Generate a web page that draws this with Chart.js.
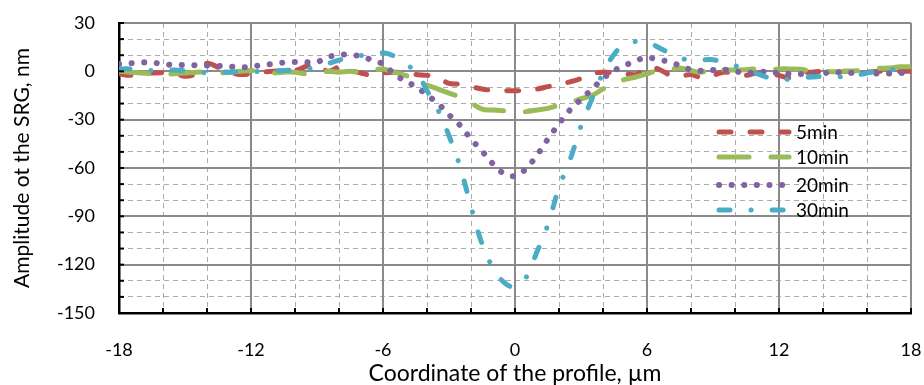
<!DOCTYPE html>
<html>
<head>
<meta charset="utf-8">
<script src="https://cdn.jsdelivr.net/npm/chart.js@4.4.1/dist/chart.umd.min.js"></script>
<style>
  body { margin: 0; background: #fff; }
  #wrap { width: 924px; height: 385px; }
</style>
</head>
<body>
<div id="wrap"><canvas id="srgChart"></canvas></div>
<script>
// profile coordinate, um (step 0.5)
const xs = [];
for (let i = 0; i <= 72; i++) xs.push(-18 + i * 0.5);

const seriesNames = ["5min", "10min", "20min", "30min"];

const min5 = [
  -1.5, -2.5, -1.5, -1, -0.8, -1, -3, -1.5, 5, 2.5, -0.5, -2, -1.5, -0.5, 0, 0.5, 0.5, 3, 4,
  0, 2.5, 0.5, -1, -2.5, -1, -0.5, -1, -2, -2.5, -4, -7.5, -8, -9.5, -11, -11.8, -12,
  -12, -12, -11, -9.5, -8, -6.5, -4.5, -1.5, -0.5, -1, -1.5, -2, 2.5, 1.5, -2, -3,
  -2, -4, -2.5, -0.5, -1.5, -2.5, -1, -1.5, -2.5, -4, -1, -0.5, 0, -0.5, 0, 0, -0.5, 0, 0, 0, 0
];
const min10 = [
  0, -0.5, -1, -1.5, -2, -1.5, -1, -0.5, -0.5, -1, -0.5, 0, 0.5, -0.3, -1, -0.5, -0.5, -1.5, -1,
  0, -0.5, 0, -0.5, 0.5, 1.5, -0.5, -2.5, -5, -8.5, -11, -13.5, -16, -19.5, -23.5, -24, -24.5,
  -25.5, -25, -24, -23, -21, -19.5, -17, -15, -11, -8, -5, -3.5, -1.5, 0.5, 1, 2,
  0.5, -0.5, 3, 1, 0.8, 1, 1.5, 1, 1.5, 1.5, 1.3, 0, 0, -0.3, 0, 0.3, 0.8, 1.8, 2, 2.8, 2.8
];
const min20 = [
  4.5, 5, 5.5, 5.5, 4.5, 4, 4, 3.8, 3.6, 3.4, 3, 2.5, 2.8, 4, 4.5, 5.5, 5.8, 5.6, 5.8,
  8.8, 10.3, 10.3, 9.3, 7, 4.5, -1.5, -6, -9.5, -14.7, -20, -27, -33.5, -42, -49.5, -57.5, -63.5,
  -65, -60.5, -52, -42, -32.5, -24, -17.5, -11, -4.5, 0.5, 3.7, 6.6, 8.7, 7.2, 6, 3.5,
  1, 0.3, 0.8, 1, 0, -1, -0.5, -0.2, -1.2, -1.5, -1.6, -1.8, -1.2, -0.5, -0.8, -1, -1.2, -1.3, -1.3, -1, -1
];
const min30 = [
  1.5, 1.5, 1, 0.5, 0.5, 0.8, 0.5, 0, -1, -0.5, -0.5, -0.4, -0.3, 0, 0.3, 0.5, 0.8, 1.5, 2.5,
  4.8, 7, 8.5, 9.8, 10.5, 11.5, 9.5, 4.5, 0, -12, -24, -40, -59, -84, -107, -122, -131,
  -134, -128, -112, -95, -72, -55, -34, -17, -1, 10.5, 17, 18.5, 18.5, 15, 11.5, 8.5,
  6.5, 7, 7.2, 5.5, 3.5, 1, -1.5, -3.8, -4.5, -5, -4, -3.5, -3.2, -3.3, -3.3, -2.5, -1, 0.5, 1, 1, 1
];

const colors = ["#C0504D", "#9BBB59", "#8064A2", "#4BACC6"];
const dashes = [[12, 19], [30, 22], [0.1, 12.5], [11, 21, 0.1, 21]];
const widths = [5, 5, 6, 5];
const allY = [min5, min10, min20, min30];

const FONT = "Lato, 'Liberation Sans', sans-serif";

const datasets = allY.map((ys, k) => ({
  label: seriesNames[k],
  data: xs.map((x, i) => ({ x: x, y: ys[i] })),
  borderColor: colors[k],
  borderWidth: widths[k],
  borderDash: dashes[k],
  borderCapStyle: "round",
  borderJoinStyle: "round",
  pointRadius: 0,
  tension: 0.35,
  fill: false,
  order: 4 - k
}));

function noPad(s) {
  s.paddingLeft = 0; s.paddingRight = 0; s.paddingTop = 0; s.paddingBottom = 0;
}

// inner tick marks on the black axes + legend inside the plot
const extras = {
  id: "extras",
  afterDraw(chart) {
    const ctx = chart.ctx;
    const x = chart.scales.x, y = chart.scales.y;
    const a = chart.chartArea;
    ctx.save();
    ctx.strokeStyle = "#000";
    ctx.lineWidth = 2;
    ctx.setLineDash([]);
    for (let v = -16; v <= 18; v += 2) {
      const px = x.getPixelForValue(v);
      ctx.beginPath(); ctx.moveTo(px, a.bottom); ctx.lineTo(px, a.bottom - 5); ctx.stroke();
    }
    for (let v = -140; v <= 30; v += 10) {
      const py = y.getPixelForValue(v);
      ctx.beginPath(); ctx.moveTo(a.left, py); ctx.lineTo(a.left + 5, py); ctx.stroke();
    }
    const rows = [132, 157, 185, 210];
    ctx.lineCap = "round";
    ctx.font = "19px " + FONT;
    ctx.textBaseline = "middle";
    ctx.fillStyle = "#000";
    rows.forEach((ry, k) => {
      ctx.strokeStyle = colors[k];
      ctx.lineWidth = widths[k];
      ctx.setLineDash(dashes[k]);
      ctx.beginPath(); ctx.moveTo(719, ry); ctx.lineTo(789, ry); ctx.stroke();
      ctx.setLineDash([]);
      ctx.fillText(seriesNames[k], 796, ry + 1);
    });
    ctx.restore();
  }
};

new Chart(document.getElementById("srgChart"), {
  type: "line",
  data: { datasets },
  plugins: [extras],
  options: {
    responsive: true,
    maintainAspectRatio: false,
    animation: false,
    layout: { padding: { left: 0, right: 13, top: 23, bottom: 0 } },
    plugins: { legend: { display: false }, tooltip: { enabled: false } },
    scales: {
      xMinor: {
        type: "linear", position: "bottom", min: -18, max: 18,
        ticks: { display: false, stepSize: 2 },
        grid: {
          color: c => (Math.abs(c.tick.value) % 6 === 0 ? "rgba(0,0,0,0)" : "#ababab"),
          lineWidth: 1, drawTicks: false
        },
        border: { display: false, dash: [5, 4] },
        afterFit: s => { s.height = 0; noPad(s); }
      },
      yMinor: {
        type: "linear", position: "left", min: -150, max: 30,
        ticks: { display: false, stepSize: 10 },
        grid: {
          color: c => (Math.abs(c.tick.value) % 30 === 0 ? "rgba(0,0,0,0)" : "#ababab"),
          lineWidth: 1, drawTicks: false
        },
        border: { display: false, dash: [5, 4] },
        afterFit: s => { s.width = 0; noPad(s); }
      },
      x: {
        type: "linear", position: "bottom", min: -18, max: 18,
        ticks: { stepSize: 6, padding: 26, color: "#000", font: { family: FONT, size: 18 } },
        grid: { color: "#8a8a8a", lineWidth: 2, drawTicks: false },
        border: { color: "#000", width: 2.5 },
        title: {
          display: true, text: "Coordinate of the profile, µm", color: "#000",
          font: { family: FONT, size: 23, lineHeight: 1 }, padding: { top: 0, bottom: 0 }
        },
        afterFit: s => { s.height = 72; noPad(s); }
      },
      y: {
        type: "linear", position: "left", min: -150, max: 30,
        ticks: { stepSize: 30, padding: 24, color: "#000", font: { family: FONT, size: 18 } },
        grid: { color: "#8a8a8a", lineWidth: 2, drawTicks: false },
        border: { color: "#000", width: 2.5 },
        title: {
          display: true, text: "Amplitude ot the SRG, nm", color: "#000",
          font: { family: FONT, size: 21, lineHeight: 1 }, padding: { top: 12, bottom: 0 }
        },
        afterFit: s => { s.width = 119; noPad(s); }
      }
    }
  }
});
</script>
</body>
</html>
